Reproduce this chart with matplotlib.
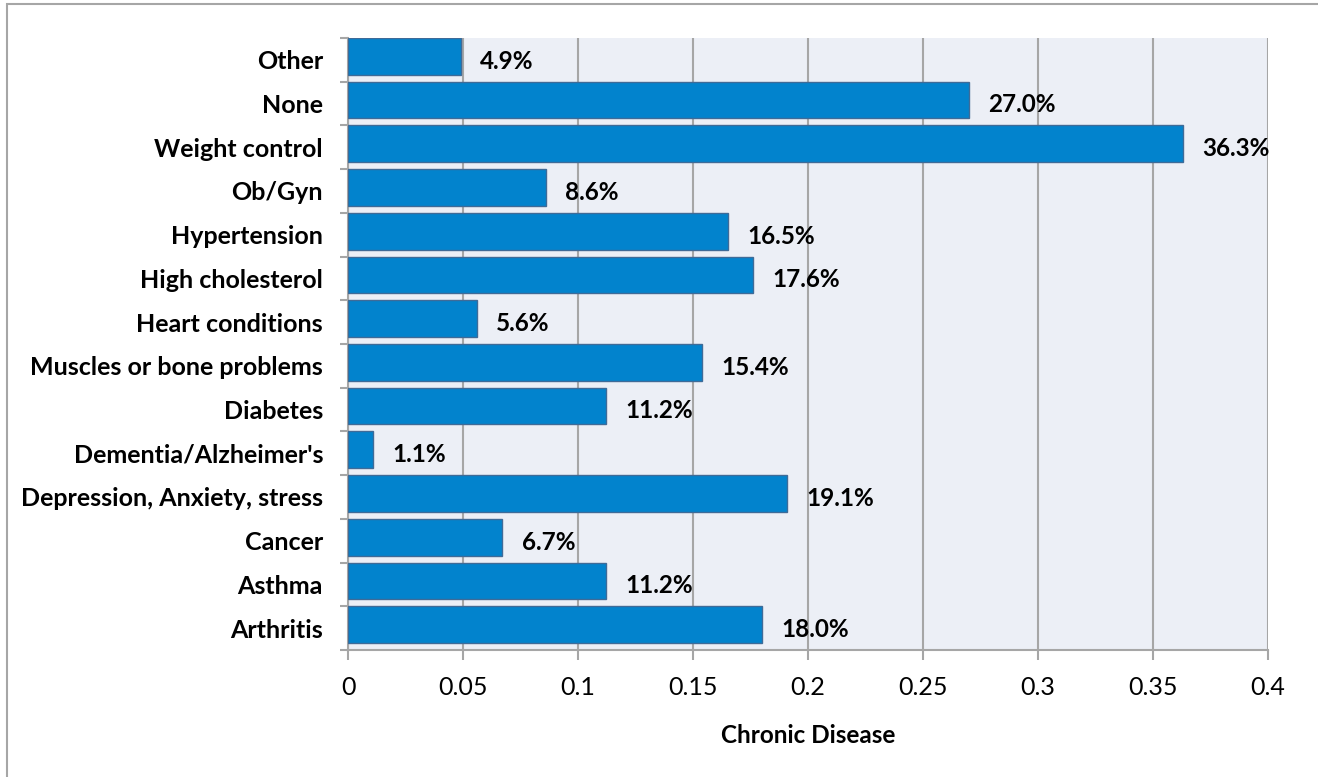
import matplotlib
matplotlib.use("Agg")
import matplotlib.pyplot as plt
from matplotlib.patches import Rectangle
import numpy as np

categories = ["Arthritis", "Asthma", "Cancer", "Depression, Anxiety, stress",
              "Dementia/Alzheimer's", "Diabetes", "Muscles or bone problems",
              "Heart conditions", "High cholesterol", "Hypertension", "Ob/Gyn",
              "Weight control", "None", "Other"]
values = [0.180, 0.112, 0.067, 0.191, 0.011, 0.112, 0.154, 0.056, 0.176,
          0.165, 0.086, 0.363, 0.270, 0.049]
value_labels = ["18.0%", "11.2%", "6.7%", "19.1%", "1.1%", "11.2%", "15.4%",
                "5.6%", "17.6%", "16.5%", "8.6%", "36.3%", "27.0%", "4.9%"]
xticks = [0, 0.05, 0.1, 0.15, 0.2, 0.25, 0.3, 0.35, 0.4]
xtick_labels = ["0", "0.05", "0.1", "0.15", "0.2", "0.25", "0.3", "0.35", "0.4"]
x_title = "Chronic Disease"

plt.rcParams['font.family'] = ['Lato', 'DejaVu Sans']

W, H = 1318, 777
fig = plt.figure(figsize=(W / 100, H / 100), dpi=100)
fig.patch.set_facecolor("white")

# outer frame
fig.add_artist(Rectangle((7 / W, -0.05), 1.1, 1 - 4 / H + 0.05,
                         transform=fig.transFigure, fill=False,
                         edgecolor="#a6a6a6", linewidth=1.5))

ax = fig.add_axes([348 / W, 1 - 650 / H, (1268 - 348) / W, (650 - 38) / H])
ax.set_facecolor("#eceff6")

y = np.arange(len(categories))
bar_h = 0.84
ax.barh(y + 0.5 - bar_h, values, height=bar_h, align="edge",
        color="#0283cd", edgecolor="#3f6b98", linewidth=1.0, zorder=3)

for yi, v, lab in zip(y, values, value_labels):
    ax.annotate(lab, xy=(v, yi), xytext=(14, -1), textcoords="offset points",
                ha="left", va="center", fontsize=17.5, fontweight="bold",
                color="black", zorder=4)

ax.set_xlim(0, 0.4)
ax.set_ylim(-0.5, len(categories) - 0.5)

ax.set_xticks(xticks)
ax.set_xticklabels(xtick_labels, fontsize=18)
ax.set_yticks(y)
ax.set_yticklabels(categories, fontsize=18, fontweight="bold")
ax.set_yticks(np.arange(-0.5, len(categories), 1.0), minor=True)

ax.tick_params(axis="y", which="major", length=0, pad=18)
ax.tick_params(axis="y", which="minor", length=6, width=1.5,
               color="#a6a6a6", direction="out")
ax.tick_params(axis="x", which="major", length=7, width=1.5,
               color="#a6a6a6", direction="out", pad=12)

ax.grid(axis="x", color="#a6a6a6", linewidth=1.5, zorder=1)
ax.set_axisbelow(True)

for s in ["top", "right"]:
    ax.spines[s].set_visible(False)
for s in ["left", "bottom"]:
    ax.spines[s].set_color("#a6a6a6")
    ax.spines[s].set_linewidth(1.5)

ax.set_xlabel(x_title, fontsize=17.5, fontweight="bold", labelpad=18)

fig.savefig("out.png", dpi=100)
